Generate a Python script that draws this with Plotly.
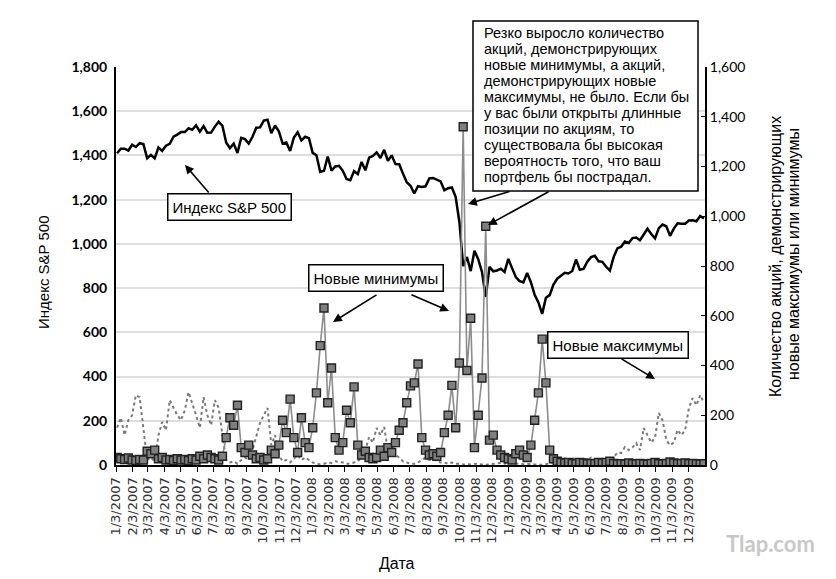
import plotly.graph_objects as go
import pandas as pd

# ---------------- data (weekly) ----------------
week_dates = pd.date_range("2007-01-05", "2010-01-01", freq="W-FRI")

sp500 = [
    # 2007
    1409.7, 1430.7, 1430.5, 1422.2, 1448.4, 1438.1, 1455.5, 1451.2,
    1387.2, 1402.8, 1386.9, 1436.1, 1420.9, 1443.8, 1452.9, 1484.4, 1494.1,
    1505.6, 1505.9, 1522.8, 1515.7, 1536.3, 1507.7, 1532.9, 1502.6, 1503.4,
    1530.4, 1552.5, 1534.1, 1458.9, 1433.1, 1453.6, 1411.0, 1479.4, 1474.0,
    1453.6, 1484.3, 1525.8, 1526.8, 1557.6, 1561.8, 1500.6, 1535.3,
    1509.7, 1453.7, 1458.7, 1420.0, 1481.1, 1504.7, 1468.0, 1484.5, 1478.5,
    # 2008
    1411.6, 1401.0, 1325.2, 1330.6, 1395.4, 1331.3, 1350.0, 1353.1, 1330.6,
    1293.4, 1288.1, 1329.5, 1315.2, 1370.4, 1332.8, 1390.3, 1397.8,
    1413.9, 1388.3, 1425.4, 1375.9, 1400.4, 1360.7, 1360.0, 1317.9, 1278.4,
    1262.9, 1228.0, 1260.7, 1257.8, 1260.3, 1296.3, 1298.2, 1292.2, 1282.8,
    1242.3, 1251.7, 1255.1, 1213.3, 1099.2, 899.2, 940.6, 876.8, 968.8,
    931.0, 873.3, 760.0, 896.2, 876.1, 879.7, 887.9, 872.8,
    # 2009
    931.8, 890.4, 850.1, 831.95, 825.9, 868.6, 826.8, 770.05, 735.1,
    683.4, 756.6, 768.5, 815.9, 842.5, 856.6, 869.6, 866.2,
    877.5, 929.2, 882.9, 887.0, 919.1, 940.1, 946.2, 921.2, 918.9,
    896.4, 879.1, 940.4, 979.3, 987.5, 1010.5, 1004.1, 1026.1, 1028.9,
    1016.4, 1042.7, 1068.3, 1044.4, 1025.2, 1071.5, 1087.7, 1079.6, 1036.2,
    1069.3, 1093.5, 1091.4, 1091.5, 1106.0, 1106.4, 1102.5, 1126.5, 1115.1,
]

new_lows = [
    # 2007
    30, 25, 22, 28, 20, 18, 22, 20, 55, 45, 60, 25, 30,
    20, 22, 18, 25, 20, 22, 18, 25, 20, 35, 25, 40, 30,
    25, 20, 35, 110, 190, 160, 240, 70, 50, 80, 40, 25, 30,
    20, 25, 60, 45, 80, 180, 130, 265, 110, 50, 190, 90, 70,
    # 2008
    150, 290, 480, 631, 250, 390, 110, 60, 90, 220, 170, 314, 80,
    40, 55, 30, 25, 30, 60, 35, 70, 50, 90, 140, 170, 250,
    318, 330, 406, 110, 60, 40, 45, 35, 50, 130, 200, 320, 150,
    410, 1360, 380, 590, 70, 200, 350, 960, 100, 120, 60, 40, 30,
    # 2009
    25, 20, 45, 60, 40, 30, 80, 180, 290, 506, 330, 60, 25,
    15, 10, 8, 10, 6, 5, 10, 8, 5, 6, 5, 10, 8,
    10, 15, 6, 4, 5, 4, 8, 5, 4, 6, 4, 3, 6,
    10, 5, 4, 6, 12, 8, 5, 6, 8, 5, 6, 5, 4, 5,
]

new_highs = [
    # 2007
    150, 190, 120, 180, 200, 281, 273, 153, 20, 30, 15, 120, 173,
    140, 261, 230, 201, 180, 220, 293, 250, 200, 150, 273, 200, 160,
    261, 230, 120, 20, 10, 15, 5, 20, 30, 20, 60, 120, 169,
    200, 229, 80, 120, 40, 15, 20, 10, 25, 40, 20, 30, 20,
    # 2008
    10, 5, 3, 5, 10, 8, 15, 12, 10, 5, 5, 10, 15,
    30, 60, 113, 90, 149, 120, 153, 60, 80, 40, 30, 15, 10,
    5, 5, 10, 20, 30, 20, 25, 15, 10, 10, 5, 10, 5,
    5, 2, 3, 2, 5, 2, 2, 1, 3, 5, 5, 8, 5,
    # 2009
    10, 8, 5, 4, 3, 5, 4, 2, 1, 1, 3, 8, 10,
    15, 20, 25, 18, 30, 20, 15, 25, 20, 30, 25, 20, 15,
    10, 15, 30, 50, 48, 72, 60, 70, 88, 60, 149, 120, 90,
    110, 209, 180, 100, 80, 90, 141, 120, 140, 229, 269, 240, 281, 250,
]

tick_dates = [pd.Timestamp(year=y, month=m, day=3) for y in (2007, 2008, 2009) for m in range(1, 13)]
tick_labels = [f"{d.month}/3/{d.year}" for d in tick_dates]

left_ticks = list(range(0, 1801, 200))
right_ticks = list(range(0, 1601, 200))

box_lines = [
    "Резко выросло количество",
    "акций, демонстрирующих",
    "новые минимумы, а акций,",
    "демонстрирующих новые",
    "максимумы, не было. Если бы",
    "у вас были открыты длинные",
    "позиции по акциям, то",
    "существовала бы высокая",
    "вероятность того, что ваш",
    "портфель бы пострадал.",
]

# ---------------- figure ----------------
L, R, T, B = 116, 705, 67, 465


def px(x):
    return (x - L) / (R - L)


def py(y):
    return (B - y) / (B - T)


TXT = "Liberation Sans, Arial, sans-serif"

fig = go.Figure()
fig.add_trace(go.Scatter(x=week_dates, y=sp500, mode="lines",
                         line=dict(color="black", width=2.5), yaxis="y",
                         showlegend=False))
fig.add_trace(go.Scatter(x=week_dates, y=new_highs, mode="lines",
                         line=dict(color="#7a7a7a", width=2, dash="dot"),
                         yaxis="y2", showlegend=False))
fig.add_trace(go.Scatter(x=week_dates, y=new_lows, mode="lines+markers",
                         line=dict(color="#8c8c8c", width=1.6),
                         marker=dict(symbol="square", size=8, color="#7f7f7f",
                                     line=dict(color="#222222", width=1.4)),
                         yaxis="y2", showlegend=False))

annotations = []

# axis titles
annotations.append(dict(text="Индекс S&P 500", x=px(43), y=py(272), xref="paper", yref="paper",
                        textangle=-90, showarrow=False, font=dict(family=TXT, size=15, color="black"),
                        xanchor="center", yanchor="middle"))
annotations.append(dict(text="Количество акций, демонстрирующих", x=px(775), y=py(257),
                        xref="paper", yref="paper", textangle=-90, showarrow=False,
                        font=dict(family=TXT, size=16, color="black"), xanchor="center", yanchor="middle"))
annotations.append(dict(text="новые максимумы или минимумы", x=px(793), y=py(254),
                        xref="paper", yref="paper", textangle=-90, showarrow=False,
                        font=dict(family=TXT, size=16, color="black"), xanchor="center", yanchor="middle"))
annotations.append(dict(text="Дата", x=px(397), y=py(563), xref="paper", yref="paper",
                        showarrow=False, font=dict(family=TXT, size=16, color="black"),
                        xanchor="center", yanchor="middle"))
annotations.append(dict(text="<b>Tlap.com</b>", x=px(770), y=py(543), xref="paper", yref="paper",
                        showarrow=False, font=dict(family="Lato, sans-serif", size=22, color="#c8c8c8"),
                        xanchor="center", yanchor="middle"))

# label boxes
for text, cx, cy in [("Индекс S&P 500", 229, 207), ("Новые минимумы", 376, 278),
                     ("Новые максимумы", 618, 345)]:
    annotations.append(dict(text=text, x=px(cx), y=py(cy), xref="paper", yref="paper",
                            showarrow=False, font=dict(family=TXT, size=15, color="black"),
                            bgcolor="white", bordercolor="black", borderwidth=1.5, borderpad=4,
                            xanchor="center", yanchor="middle"))

# big box text lines
for i, line in enumerate(box_lines):
    annotations.append(dict(text=line, x=px(482), y=py(33 + 16.0 * i), xref="paper", yref="paper",
                            showarrow=False, font=dict(family=TXT, size=14.5, color="black"),
                            xanchor="left", yanchor="middle"))

# arrows (tail -> head)
for (tx, ty), (hx, hy) in [((210, 194), (185, 165)),
                           ((378, 294), (333, 322)),
                           ((410, 294), (449, 311)),
                           ((511, 191), (468, 204)),
                           ((550, 191), (488, 225)),
                           ((620, 358), (655, 379))]:
    annotations.append(dict(text="", x=px(hx), y=py(hy), xref="paper", yref="paper",
                            ax=tx - hx, ay=ty - hy, axref="pixel", ayref="pixel",
                            showarrow=True, arrowhead=2, arrowsize=1.1, arrowwidth=1.6,
                            arrowcolor="black", standoff=0, startstandoff=0))

fig.update_layout(
    width=836, height=579,
    margin=dict(l=L, r=836 - R, t=T, b=579 - B),
    paper_bgcolor="white", plot_bgcolor="white",
    xaxis=dict(type="date", range=["2007-01-03", "2010-01-03"],
               tickvals=tick_dates, ticktext=tick_labels, tickangle=-90,
               tickfont=dict(family="DejaVu Sans, sans-serif", size=13, color="#333"),
               ticks="outside", ticklen=5, tickcolor="black",
               showline=True, linecolor="black", linewidth=2,
               showgrid=False, zeroline=False),
    yaxis=dict(range=[0, 1800], tickvals=left_ticks, tickformat=",",
               tickfont=dict(family="Lato, sans-serif", size=14, color="black", weight="bold"),
               showgrid=True, gridcolor="#dedede", gridwidth=1.5,
               showline=True, linecolor="black", linewidth=2, ticks="",
               ticklabelstandoff=4, zeroline=False),
    yaxis2=dict(range=[0, 1600], tickvals=right_ticks, tickformat=",", overlaying="y", side="right",
                tickfont=dict(family="Lato, sans-serif", size=14, color="black"),
                showgrid=False, showline=True, linecolor="black", linewidth=2,
                ticks="inside", ticklen=4, tickcolor="black", zeroline=False),
    annotations=annotations,
    shapes=[dict(type="rect", xref="paper", yref="paper", x0=px(473), x1=px(698),
                 y0=py(191), y1=py(21), line=dict(color="black", width=1.5),
                 fillcolor="white", layer="above")],
)

fig.write_html("out.html")
